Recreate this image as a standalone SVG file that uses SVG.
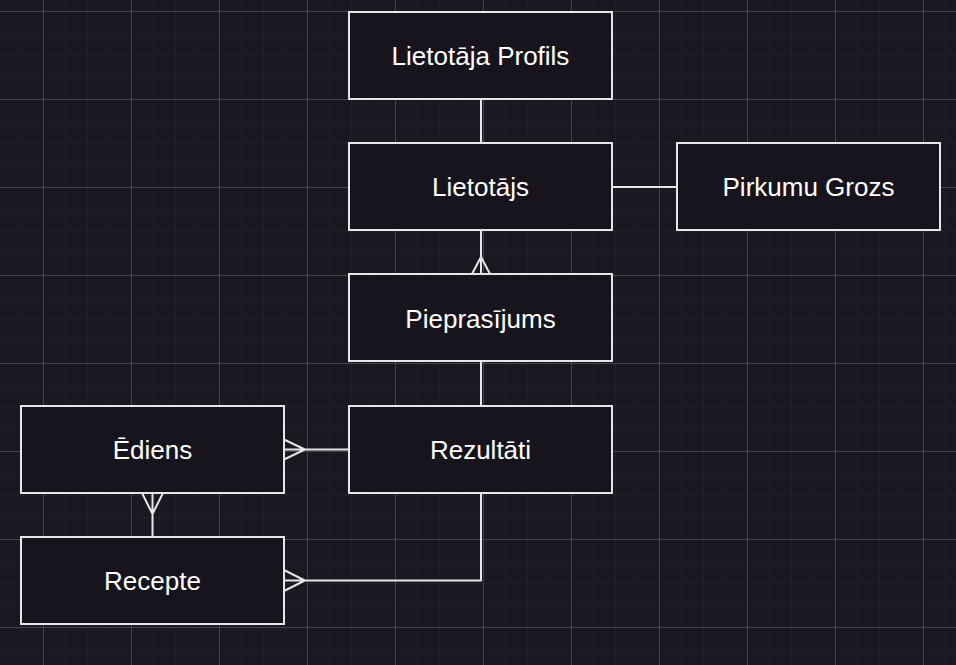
<svg xmlns="http://www.w3.org/2000/svg" width="956" height="665" viewBox="0 0 956 665">
<defs>
<pattern id="minor" x="43" y="11" width="22" height="22" patternUnits="userSpaceOnUse">
<path d="M0.5 0V22M0 0.5H22" fill="none" stroke="#221f28" stroke-width="1"/>
</pattern>
<pattern id="major" x="43" y="11" width="88" height="88" patternUnits="userSpaceOnUse">
<path d="M0.5 0V88M0 0.5H88" fill="none" stroke="#45424b" stroke-width="1"/>
</pattern>
<style>
.box{fill:#18141d;stroke:#e6e6e6;stroke-width:2}
.lbl{fill:#ffffff;font-family:"Liberation Sans",Arial,sans-serif;font-size:26px;text-anchor:middle;dominant-baseline:central}
.ln{fill:none;stroke:#e6e6e6;stroke-width:2}
</style>
</defs>
<rect width="956" height="665" fill="#1a1820"/>
<rect width="956" height="665" fill="url(#minor)"/>
<rect width="956" height="665" fill="url(#major)"/>
<g id="connectors">
<path class="ln" d="M481 99V143"/>
<path class="ln" d="M612 187H677"/>
<path class="ln" d="M481 230V274M472 274L481 257L490 274"/>
<path class="ln" d="M481 361V406"/>
<path class="ln" d="M349 449.5H284M284 439.5L305 449.5L284 459.5"/>
<path class="ln" d="M152.5 493V537M142 493L152.5 514L163 493"/>
<path class="ln" d="M481 493V580.5H284M284 570L305 580.5L284 591"/>
</g>
<g id="profils"><rect class="box" x="349" y="12" width="263" height="87"/><text class="lbl" x="480.5" y="55.5">Lietotāja Profils</text></g>
<g id="lietotajs"><rect class="box" x="349" y="143" width="263" height="87"/><text class="lbl" x="480.5" y="186.5">Lietotājs</text></g>
<g id="grozs"><rect class="box" x="677" y="143" width="263" height="87"/><text class="lbl" x="808.5" y="186.5">Pirkumu Grozs</text></g>
<g id="pieprasijums"><rect class="box" x="349" y="274" width="263" height="87"/><text class="lbl" x="480.5" y="318.5">Pieprasījums</text></g>
<g id="rezultati"><rect class="box" x="349" y="406" width="263" height="87"/><text class="lbl" x="480.5" y="449.5">Rezultāti</text></g>
<g id="ediens"><rect class="box" x="21" y="406" width="263" height="87"/><text class="lbl" x="152.5" y="449.5">Ēdiens</text></g>
<g id="recepte"><rect class="box" x="21" y="537" width="263" height="87"/><text class="lbl" x="152.5" y="580.5">Recepte</text></g>
</svg>
